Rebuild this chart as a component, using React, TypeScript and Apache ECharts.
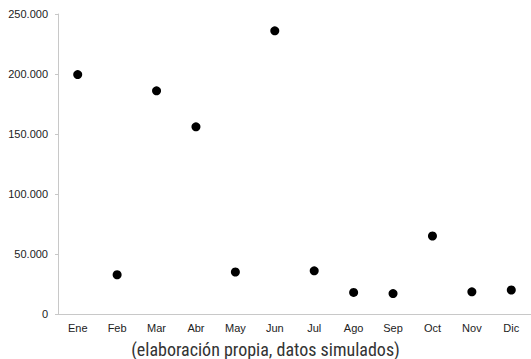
import React, { useEffect, useRef } from "react";
import * as echarts from "echarts";

const months = ["Ene", "Feb", "Mar", "Abr", "May", "Jun", "Jul", "Ago", "Sep", "Oct", "Nov", "Dic"];
const values = [199500, 32700, 186000, 156000, 35000, 236000, 36000, 18000, 17000, 65000, 18500, 20000];
const yTicks = { min: 0, max: 250000, interval: 50000 };
const caption = "(elaboración propia, datos simulados)";

const fmt = (v: number) => String(v).replace(/\B(?=(\d{3})+(?!\d))/g, ".");
const labelFont = "Arial, Liberation Sans, Helvetica, sans-serif";

export default function App() {
  const ref = useRef<HTMLDivElement>(null);
  useEffect(() => {
    if (!ref.current) return;
    const chart = echarts.init(ref.current, null, { renderer: "svg" });
    chart.setOption({
      animation: false,
      backgroundColor: "#ffffff",
      title: {
        text: caption,
        left: "center",
        top: 335,
        textStyle: {
          fontSize: 18,
          fontWeight: "normal",
          color: "#333333",
          fontFamily: "Roboto Condensed, Liberation Sans Narrow, DejaVu Sans Condensed, sans-serif",
        },
      },
      grid: { left: 58, top: 14, width: 481, height: 300 },
      xAxis: {
        type: "category",
        data: months,
        boundaryGap: true,
        axisLine: { show: true, lineStyle: { color: "#c8c8c8", width: 1 } },
        axisTick: { show: false },
        axisLabel: { margin: 8, fontSize: 11, color: "#222222", fontFamily: labelFont },
        splitLine: { show: false },
      },
      yAxis: {
        type: "value",
        min: yTicks.min,
        max: yTicks.max,
        interval: yTicks.interval,
        axisLine: { show: true, lineStyle: { color: "#c8c8c8", width: 1 } },
        axisTick: { show: true, length: 3, lineStyle: { color: "#c8c8c8" } },
        axisLabel: {
          margin: 10,
          fontSize: 11,
          color: "#222222",
          fontFamily: labelFont,
          formatter: (v: number) => fmt(v),
        },
        splitLine: { show: false },
      },
      series: [
        {
          type: "scatter",
          data: values,
          symbol: "circle",
          symbolSize: 9,
          itemStyle: { color: "#000000", opacity: 1 },
        },
      ],
    });
    return () => chart.dispose();
  }, []);
  return <div ref={ref} style={{ position: "fixed", left: 0, top: 0, width: 531, height: 359 }} />;
}
